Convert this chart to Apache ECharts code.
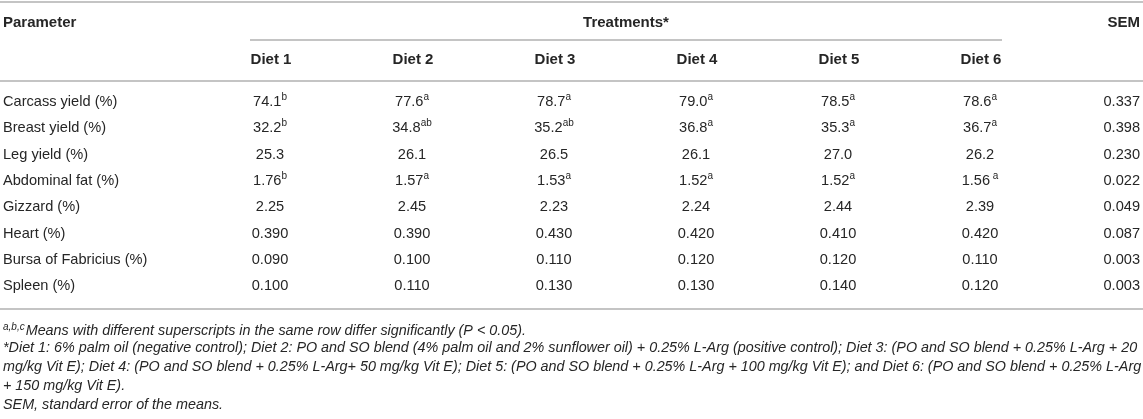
<!DOCTYPE html>
<html>
<head>
<meta charset="utf-8">
<script src="https://cdn.jsdelivr.net/npm/echarts@6/dist/echarts.min.js"></script>
<style>
  html, body { margin: 0; padding: 0; background: #fff; }
  #main { width: 1143px; height: 419px; }
</style>
</head>
<body>
<div id="main"></div>
<script>
// table data
var parameters = ['Carcass yield (%)', 'Breast yield (%)', 'Leg yield (%)', 'Abdominal fat (%)',
  'Gizzard (%)', 'Heart (%)', 'Bursa of Fabricius (%)', 'Spleen (%)'];
var diets = ['Diet 1', 'Diet 2', 'Diet 3', 'Diet 4', 'Diet 5', 'Diet 6'];

var carcassYield = [74.1, 77.6, 78.7, 79.0, 78.5, 78.6];
var breastYield = [32.2, 34.8, 35.2, 36.8, 35.3, 36.7];
var legYield = [25.3, 26.1, 26.5, 26.1, 27.0, 26.2];
var abdominalFat = [1.76, 1.57, 1.53, 1.52, 1.52, 1.56];
var gizzard = [2.25, 2.45, 2.23, 2.24, 2.44, 2.39];
var heart = [0.390, 0.390, 0.430, 0.420, 0.410, 0.420];
var bursa = [0.090, 0.100, 0.110, 0.120, 0.120, 0.110];
var spleen = [0.100, 0.110, 0.130, 0.130, 0.140, 0.120];
var sem = [0.337, 0.398, 0.230, 0.022, 0.049, 0.087, 0.003, 0.003];
var decimals = [1, 1, 1, 2, 2, 3, 3, 3];

var superscripts = [
  ['b', 'a', 'a', 'a', 'a', 'a'],
  ['b', 'ab', 'ab', 'a', 'a', 'a'],
  ['', '', '', '', '', ''],
  ['b', 'a', 'a', 'a', 'a', ' a'],
  ['', '', '', '', '', ''],
  ['', '', '', '', '', ''],
  ['', '', '', '', '', ''],
  ['', '', '', '', '', '']
];

var footnotes = [
  '{sup|a,b,c}Means with different superscripts in the same row differ significantly (P < 0.05).',
  '*Diet 1: 6% palm oil (negative control); Diet 2: PO and SO blend (4% palm oil and 2% sunflower oil) + 0.25% L-Arg (positive control); Diet 3: (PO and SO blend + 0.25% L-Arg + 20',
  'mg/kg Vit E); Diet 4: (PO and SO blend + 0.25% L-Arg+ 50 mg/kg Vit E); Diet 5: (PO and SO blend + 0.25% L-Arg + 100 mg/kg Vit E); and Diet 6: (PO and SO blend + 0.25% L-Arg',
  '+ 150 mg/kg Vit E).',
  'SEM, standard error of the means.'
];

var rows = [carcassYield, breastYield, legYield, abdominalFat, gizzard, heart, bursa, spleen];

// layout: x = column index (0 parameter, 1..6 diets, 7 SEM), y = row index
var colW = 142, firstCenter = 271, rowH = 26.3, firstRow = 102;
var xMin = 1 - firstCenter / colW, xMax = xMin + 1143 / colW;
var yMin = -firstRow / rowH, yMax = yMin + 419 / rowH;
var headTopRow = -3.0, headDietRow = -1.6;

var FONT = '"Liberation Sans", Arial, Helvetica, sans-serif';
var TXT = '#262626';
var RULE = '#b0b0b0';

var cells = [];
function cell(col, row, text, align, dx, bold) {
  cells.push({ value: [col, row], text: text, align: align, dx: dx, bold: bold });
}
cell(0, headTopRow, 'Parameter', 'left', 3 - (firstCenter - colW), true);
cell(3.5, headTopRow, 'Treatments*', 'center', 0, true);
cell(7, headTopRow, 'SEM', 'right', 17, true);
diets.forEach(function (d, i) { cell(i + 1, headDietRow, d, 'center', 0, true); });
parameters.forEach(function (p, r) {
  cell(0, r, p, 'left', 3 - (firstCenter - colW), false);
  rows[r].forEach(function (v, c) {
    var s = v.toFixed(decimals[r]);
    var sup = superscripts[r][c];
    cell(c + 1, r, sup ? s + '{sup|' + sup + '}' : s, 'center', -1, false);
  });
  cell(7, r, sem[r].toFixed(3), 'right', 17, false);
});

// horizontal rules [x0, x1, y]
var halfDiet = 21 / colW;
var rules = [
  [xMin, xMax, -3.8],
  [1 - halfDiet, 6 + halfDiet, -2.36],
  [xMin, xMax, -0.8],
  [xMin, xMax, 7.87]
];

var chart = echarts.init(document.getElementById('main'), null, { renderer: 'canvas' });
chart.setOption({
  animation: false,
  grid: { left: 0, right: 0, top: 0, bottom: 0 },
  xAxis: { type: 'value', min: xMin, max: xMax, show: false },
  yAxis: { type: 'value', min: yMin, max: yMax, inverse: true, show: false },
  graphic: footnotes.map(function (t, i) {
    return {
      type: 'text', left: 3, top: 322 + i * 19,
      style: {
        text: t, fill: TXT,
        font: 'italic 14.35px ' + FONT,
        rich: { sup: { fontSize: 10, fontStyle: 'italic', fontFamily: FONT, fill: TXT, padding: [0, 1, 8, 0] } }
      }
    };
  }),
  series: [
    {
      type: 'custom',
      silent: true,
      data: rules,
      renderItem: function (params, api) {
        var a = api.coord([api.value(0), api.value(2)]);
        var b = api.coord([api.value(1), api.value(2)]);
        return {
          type: 'line',
          shape: { x1: a[0], y1: a[1], x2: b[0], y2: b[1] },
          style: { stroke: RULE, lineWidth: 1.6 }
        };
      }
    },
    {
      type: 'custom',
      silent: true,
      data: cells,
      renderItem: function (params, api) {
        var c = cells[params.dataIndex];
        var p = api.coord([api.value(0), api.value(1)]);
        return {
          type: 'text',
          x: p[0] + c.dx,
          y: p[1],
          style: {
            text: c.text,
            fill: TXT,
            font: (c.bold ? 'bold 15px ' : '14.6px ') + FONT,
            align: c.align,
            verticalAlign: 'middle',
            rich: { sup: { fontSize: 10, fontFamily: FONT, fill: TXT, padding: [0, 0, 10, 0] } }
          }
        };
      }
    }
  ]
});
</script>
</body>
</html>
